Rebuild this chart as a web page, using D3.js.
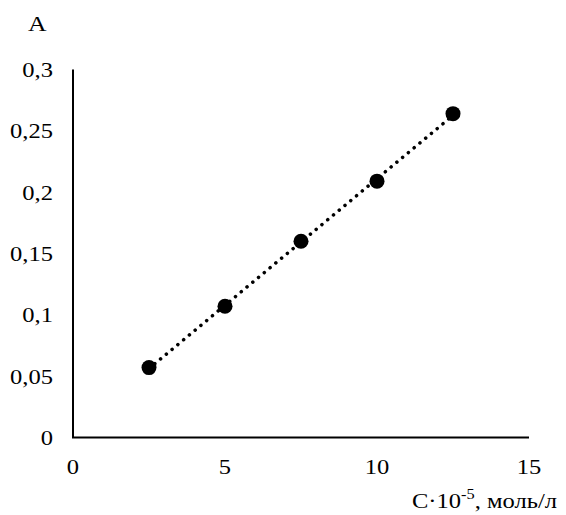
<!DOCTYPE html>
<html lang="ru">
<head>
<meta charset="UTF-8">
<title>A vs C</title>
<script src="https://cdnjs.cloudflare.com/ajax/libs/d3/7.8.5/d3.min.js"></script>
<style>
  body { margin: 0; background: #fff; }
  svg text { font-family: "Liberation Serif", "Times New Roman", serif; fill: #000; }
</style>
</head>
<body>
<div id="chart"></div>
<script>
// data
var concentrations = [2.5, 5, 7.5, 10, 12.5];
var absorbance = [0.057, 0.107, 0.16, 0.209, 0.264];
var xTicks = [0, 5, 10, 15];
var yTicks = [0, 0.05, 0.1, 0.15, 0.2, 0.25, 0.3];

var w = 566, h = 515;
var fontSize = "21px";
var stretch = 1.17; // text in the original is a bit wider than plain Times
var svg = d3.select("#chart").append("svg")
    .attr("width", w)
    .attr("height", h);

var x = d3.scaleLinear().domain([0, 15]).range([73, 529]);
var y = d3.scaleLinear().domain([0, 0.3]).range([437.5, 69.5]);

function fmt(v) {
    return String(+v.toFixed(2)).replace(".", ",");
}
function place(px, py) {
    return "translate(" + px + "," + py + ") scale(" + stretch + ",1)";
}

// axes lines
svg.append("line")
    .attr("x1", x(0)).attr("x2", x(0))
    .attr("y1", y(0.3)).attr("y2", y(0))
    .attr("stroke", "#000").attr("stroke-width", 2);
svg.append("line")
    .attr("x1", x(0) - 1).attr("x2", x(15))
    .attr("y1", y(0)).attr("y2", y(0))
    .attr("stroke", "#000").attr("stroke-width", 2);

// tick labels
svg.selectAll("text.ylab").data(yTicks).enter().append("text")
    .attr("class", "ylab")
    .attr("transform", function(d) { return place(53, y(d) + 7.5); })
    .attr("text-anchor", "end")
    .attr("font-size", fontSize)
    .text(fmt);

svg.selectAll("text.xlab").data(xTicks).enter().append("text")
    .attr("class", "xlab")
    .attr("transform", function(d) { return place(x(d), 474); })
    .attr("text-anchor", "middle")
    .attr("font-size", fontSize)
    .text(fmt);

// axis titles
svg.append("text")
    .attr("transform", place(28, 31))
    .attr("font-size", "22px")
    .text("A");

var xt = svg.append("text")
    .attr("transform", place(557, 508))
    .attr("text-anchor", "end")
    .attr("font-size", fontSize);
xt.append("tspan").text("C·10");
xt.append("tspan").attr("dy", -9).attr("font-size", "14px").text("-5");
xt.append("tspan").attr("dy", 9).text(", моль/л");

// linear trendline (least squares)
var n = concentrations.length;
var mx = d3.mean(concentrations), my = d3.mean(absorbance);
var sxy = 0, sxx = 0;
for (var i = 0; i < n; i++) {
    sxy += (concentrations[i] - mx) * (absorbance[i] - my);
    sxx += (concentrations[i] - mx) * (concentrations[i] - mx);
}
var slope = sxy / sxx;
var icpt = my - slope * mx;
var x0 = d3.min(concentrations), x1 = d3.max(concentrations);

svg.append("line")
    .attr("x1", x(x0)).attr("y1", y(icpt + slope * x0))
    .attr("x2", x(x1)).attr("y2", y(icpt + slope * x1))
    .attr("stroke", "#000")
    .attr("stroke-width", 3.5)
    .attr("stroke-linecap", "round")
    .attr("stroke-dasharray", "0.1 7.4");

// points
svg.selectAll("circle").data(concentrations).enter().append("circle")
    .attr("cx", function(d) { return x(d); })
    .attr("cy", function(d, i) { return y(absorbance[i]); })
    .attr("r", 7.5)
    .attr("fill", "#000");
</script>
</body>
</html>
